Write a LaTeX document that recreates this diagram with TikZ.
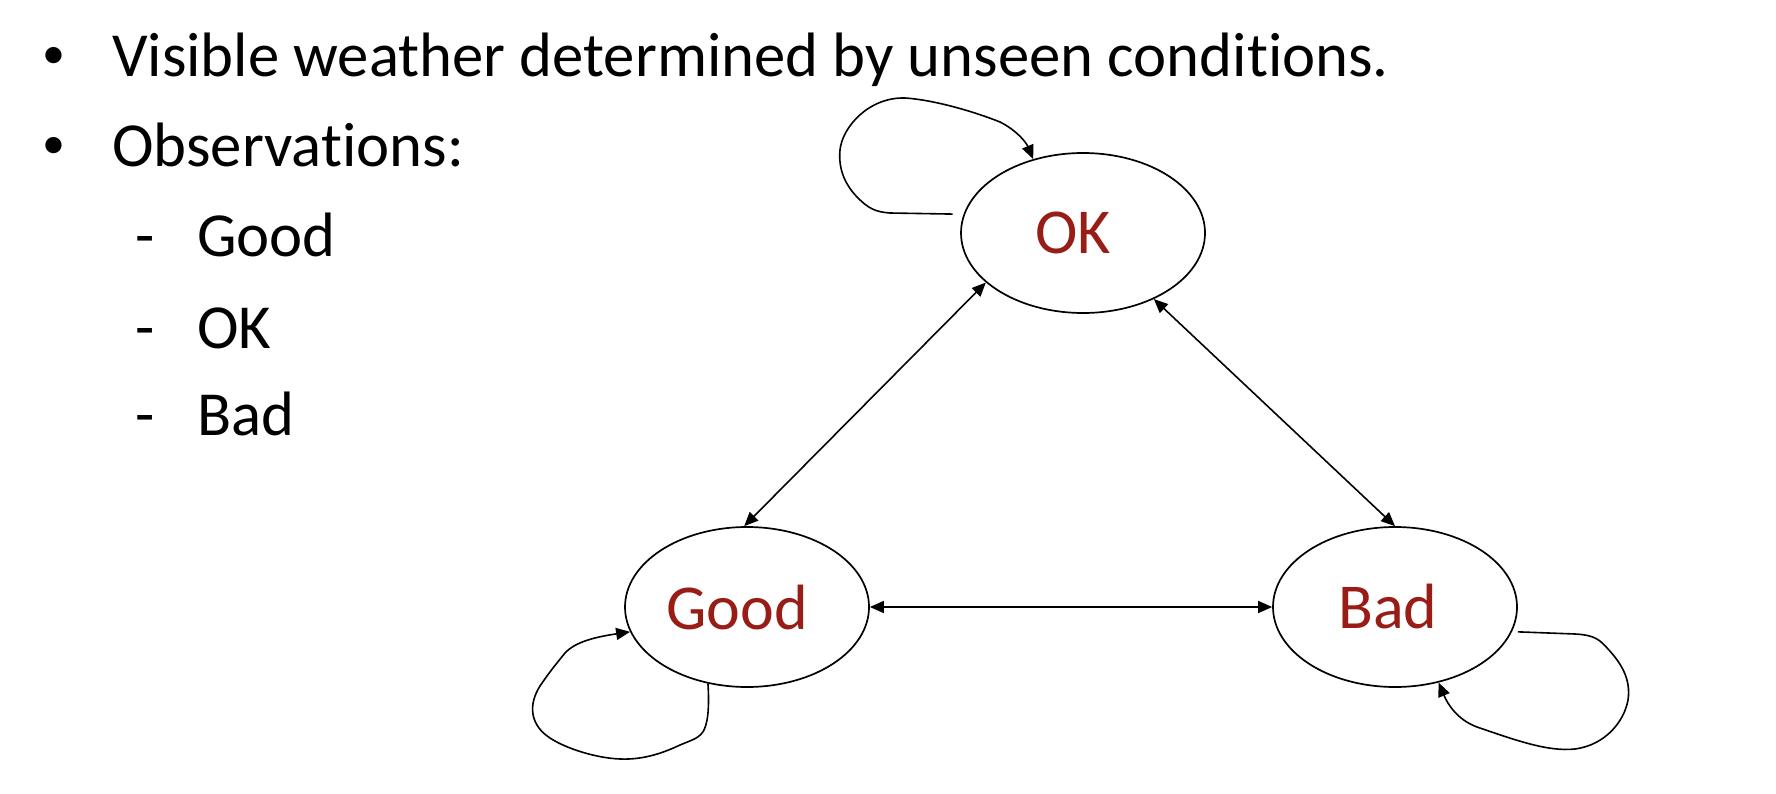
\documentclass[tikz,border=0pt]{standalone}
\usepackage{fontspec}
\setmainfont{Carlito}[Ligatures={NoCommon}]
\usetikzlibrary{arrows.meta,shapes.geometric}
\definecolor{statered}{RGB}{152,29,22}
\tikzset{
  state/.style={draw=black, line width=1.7pt, ellipse, minimum width=244pt, minimum height=160pt, inner sep=0pt, text=statered, font=\fontsize{64}{77}\selectfont},
  txt/.style={anchor=base west, inner sep=0pt, font=\fontsize{62.7}{77}\selectfont},
  bmark/.style={anchor=base, inner sep=0pt, font=\fontsize{62.7}{77}\selectfont},
  bullet/.style={anchor=base, inner sep=0pt, font=\fontsize{46}{56}\selectfont},
  conn/.style={draw=black, line width=1.6pt},
  arr/.style={conn, -{Triangle[length=14pt,width=12pt]}},
  darr/.style={conn, {Triangle[length=14pt,width=12pt]}-{Triangle[length=14pt,width=12pt]}}
}
\begin{document}
\begin{tikzpicture}[x=1pt,y=-1pt]
\useasboundingbox (0,0) rectangle (1776,794);
% text
\node[bullet] (b1) at (54,69) {•};
\node[txt] (t1) at (112,77) {Visible weather determined by unseen conditions.};
\node[bullet] (b2) at (54,159) {•};
\node[txt] (t2) at (112,167) {Observations:};
\node[bmark] (d1) at (145,257) {-};
\node[txt] (s1) at (197,257) {Good};
\node[bmark] (d2) at (145,348) {-};
\node[txt] (s2) at (197,348) {OK};
\node[bmark] (d3) at (145,435) {-};
\node[txt] (s3) at (197,435) {Bad};
% states
\node[state] (OK) at (1083,233) {OK\kern20pt};
\node[state] (Good) at (747,607) {Good\kern20pt};
\node[state] (Bad) at (1395,607) {Bad\kern14pt};
% transitions
\draw[darr] (Good.92) -- (OK.207);
\draw[darr] (OK.317) -- (Bad.90);
\draw[darr] (Good.east) -- (Bad.west);
% self loops
\draw[arr] ([xshift=-11pt]OK.171) -- (890,213) .. controls (875,212) and (868,208) .. (858,198)
  .. controls (846,186) and (838,170) .. (840,150)
  .. controls (842,128) and (868,97) .. (905,98)
  .. controls (935,100) and (975,112) .. (1000,122)
  .. controls (1016,130) and (1026,142) .. (OK.124);
\draw[arr] (Good.243) .. controls (709,700) and (709,720) .. (704,730)
  .. controls (700,738) and (692,740) .. (680,745)
  .. controls (665,752) and (645,760) .. (620,759)
  .. controls (595,758) and (565,748) .. (550,738)
  .. controls (530,725) and (528,705) .. (540,686)
  .. controls (548,674) and (556,664) .. (565,653)
  .. controls (575,642) and (595,637) .. (Good.192);
\draw[arr] ([xshift=6pt]Bad.348) -- (1575,634)
  .. controls (1595,635) and (1600,640) .. (1608,649)
  .. controls (1622,664) and (1631,680) .. (1628,700)
  .. controls (1624,722) and (1605,745) .. (1575,749)
  .. controls (1548,752) and (1515,740) .. (1477,727)
  .. controls (1458,720) and (1448,705) .. (Bad.300);
\end{tikzpicture}
\end{document}
